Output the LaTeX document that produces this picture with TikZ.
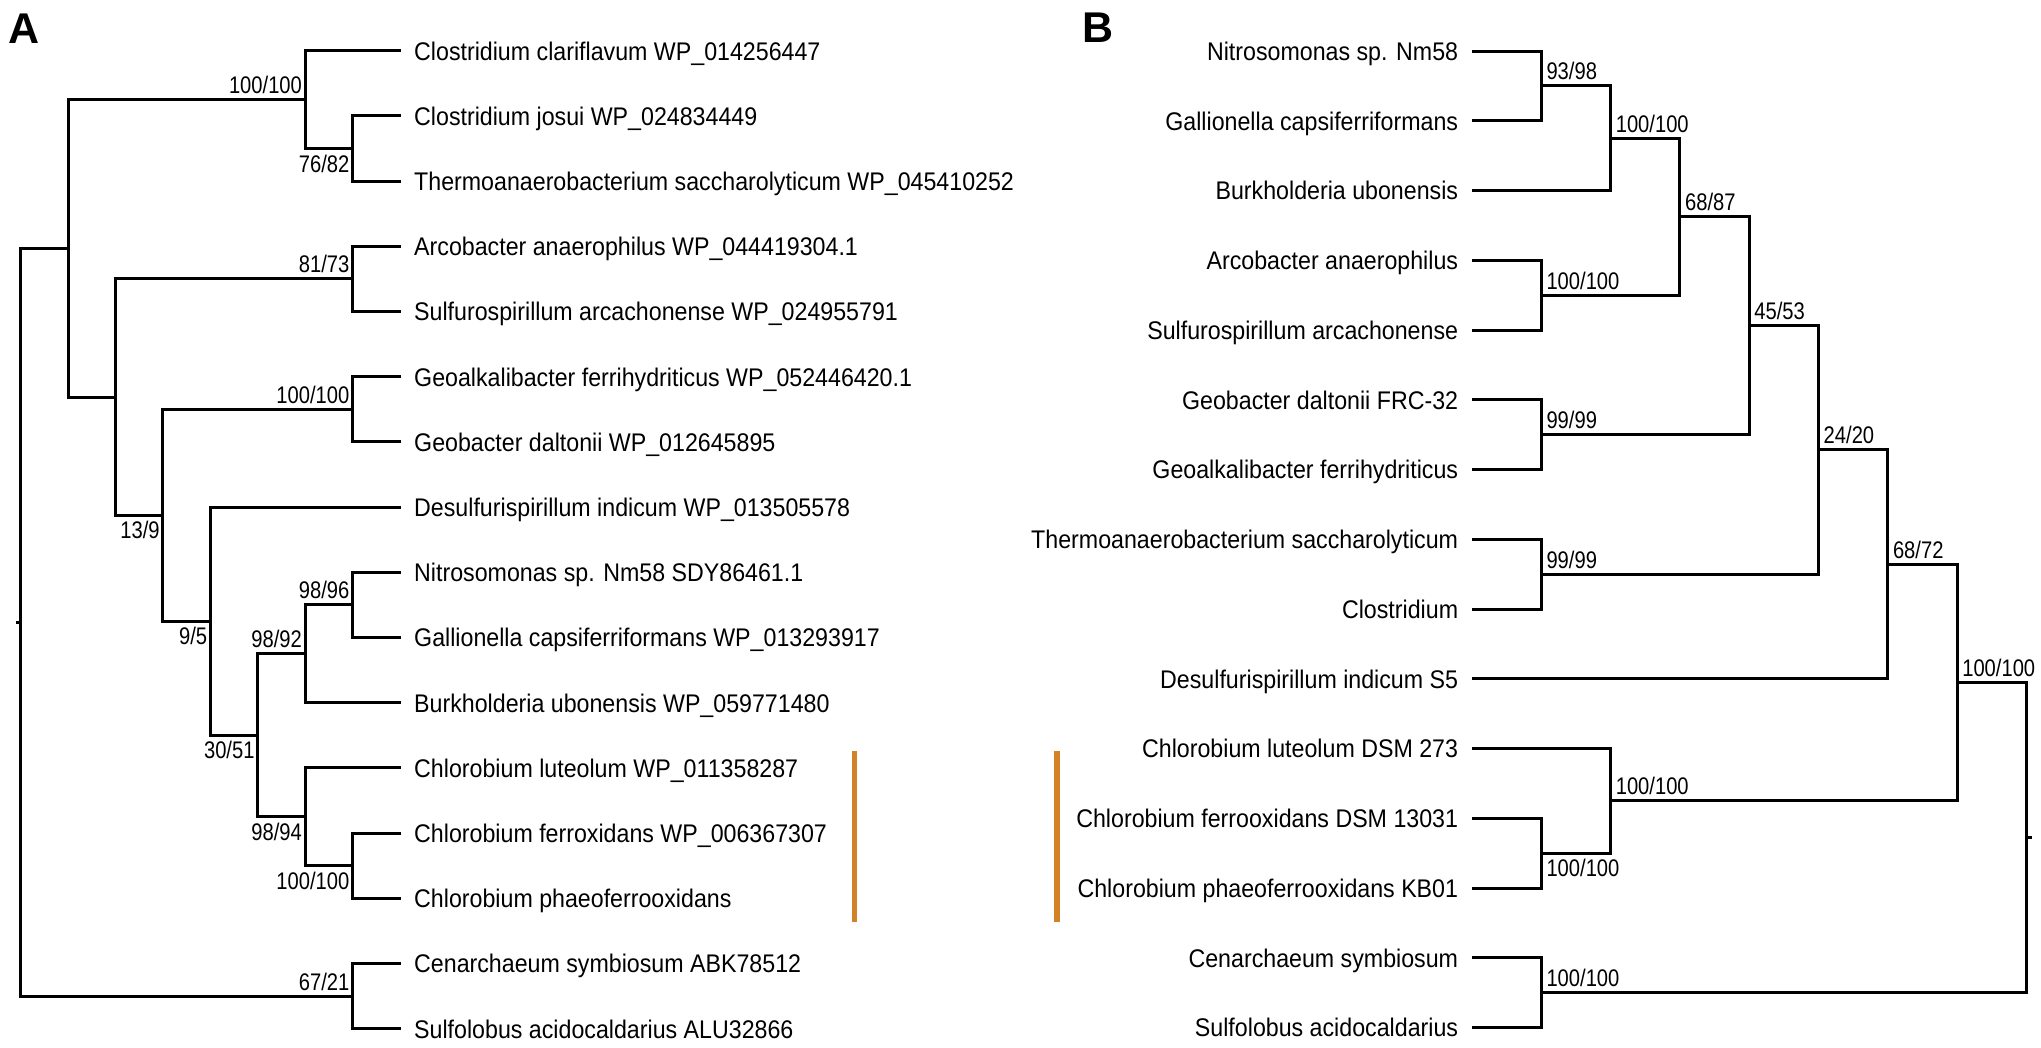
\documentclass[tikz,border=0pt]{standalone}
\usepackage{fontspec}
\setmainfont[FakeStretch=0.91]{Liberation Sans}
\newfontfamily\labfont[FakeStretch=0.84]{Liberation Sans}
\newfontfamily\panelfont{Liberation Sans}
\definecolor{barorange}{RGB}{212,130,40}
\begin{document}
\begin{tikzpicture}[x=1pt,y=-1pt,
  br/.style={line width=3pt, line join=miter, draw=black},
  leafA/.style={anchor=base west, inner sep=0pt, font=\fontsize{25.5}{30}\selectfont},
  leafB/.style={anchor=base east, inner sep=0pt, font=\fontsize{25.5}{30}\selectfont},
  labup/.style={inner sep=0pt, font=\labfont\fontsize{24}{28}\selectfont},
  panel/.style={anchor=base west, inner sep=0pt, font=\panelfont\fontsize{43}{48}\selectfont\bfseries},
  bar/.style={line width=5.7pt, draw=barorange}]
\useasboundingbox (0,0) rectangle (2041,1047);

% ---------------- Panel A ----------------
\node[panel] (pA) at (8,43) {A};
% leaves
\coordinate (A0) at (401,50.7);
\coordinate (A1) at (401,115.9);
\coordinate (A2) at (401,181.1);
\coordinate (A3) at (401,246.3);
\coordinate (A4) at (401,311.5);
\coordinate (A5) at (401,376.7);
\coordinate (A6) at (401,441.9);
\coordinate (A7) at (401,507.1);
\coordinate (A8) at (401,572.3);
\coordinate (A9) at (401,637.5);
\coordinate (A10) at (401,702.7);
\coordinate (A11) at (401,767.9);
\coordinate (A12) at (401,833.1);
\coordinate (A13) at (401,898.3);
\coordinate (A14) at (401,963.5);
\coordinate (A15) at (401,1028.7);
% internal nodes
\coordinate (a1) at (352.5,148.5);
\coordinate (a2) at (305.1,99.6);
\coordinate (a3) at (352.5,278.9);
\coordinate (a4) at (352.5,409.3);
\coordinate (a5) at (352.5,604.9);
\coordinate (a6) at (305.1,653.8);
\coordinate (a7) at (352.5,865.7);
\coordinate (a8) at (305.1,816.8);
\coordinate (a9) at (257.7,735.3);
\coordinate (a10) at (210.3,621.2);
\coordinate (a11) at (162.9,515.25);
\coordinate (a12) at (115.5,397.1);
\coordinate (a13) at (68.1,248.35);
\coordinate (a14) at (352.5,996.1);
\coordinate (aR) at (20.7,622.2);
\coordinate (aT) at (16,622.2);

\draw[br] (A1) -| (a1) |- (A2);
\draw[br] (A0) -| (a2) |- (a1);
\draw[br] (A3) -| (a3) |- (A4);
\draw[br] (A5) -| (a4) |- (A6);
\draw[br] (A8) -| (a5) |- (A9);
\draw[br] (a5) -| (a6) |- (A10);
\draw[br] (A12) -| (a7) |- (A13);
\draw[br] (A11) -| (a8) |- (a7);
\draw[br] (a6) -| (a9) |- (a8);
\draw[br] (A7) -| (a10) |- (a9);
\draw[br] (a4) -| (a11) |- (a10);
\draw[br] (a3) -| (a12) |- (a11);
\draw[br] (a2) -| (a13) |- (a12);
\draw[br] (A14) -| (a14) |- (A15);
\draw[br] (a13) -| (aR) |- (a14);
\draw[br] (aR) -- (aT);

% leaf labels A
\node[leafA] (tA0) at ([shift={(13,9.3)}]A0) {Clostridium clariflavum WP\_014256447};
\node[leafA] (tA1) at ([shift={(13,9.3)}]A1) {Clostridium josui WP\_024834449};
\node[leafA] (tA2) at ([shift={(13,9.3)}]A2) {Thermoanaerobacterium saccharolyticum WP\_045410252};
\node[leafA] (tA3) at ([shift={(13,9.3)}]A3) {Arcobacter anaerophilus WP\_044419304.1};
\node[leafA] (tA4) at ([shift={(13,9.3)}]A4) {Sulfurospirillum arcachonense WP\_024955791};
\node[leafA] (tA5) at ([shift={(13,9.3)}]A5) {Geoalkalibacter ferrihydriticus WP\_052446420.1};
\node[leafA] (tA6) at ([shift={(13,9.3)}]A6) {Geobacter daltonii WP\_012645895};
\node[leafA] (tA7) at ([shift={(13,9.3)}]A7) {Desulfurispirillum indicum WP\_013505578};
\node[leafA] (tA8) at ([shift={(13,9.3)}]A8) {Nitrosomonas sp. Nm58 SDY86461.1};
\node[leafA] (tA9) at ([shift={(13,9.3)}]A9) {Gallionella capsiferriformans WP\_013293917};
\node[leafA] (tA10) at ([shift={(13,9.3)}]A10) {Burkholderia ubonensis WP\_059771480};
\node[leafA] (tA11) at ([shift={(13,9.3)}]A11) {Chlorobium luteolum WP\_011358287};
\node[leafA] (tA12) at ([shift={(13,9.3)}]A12) {Chlorobium ferroxidans WP\_006367307};
\node[leafA] (tA13) at ([shift={(13,9.3)}]A13) {Chlorobium phaeoferrooxidans};
\node[leafA] (tA14) at ([shift={(13,9.3)}]A14) {Cenarchaeum symbiosum ABK78512};
\node[leafA] (tA15) at ([shift={(13,9.3)}]A15) {Sulfolobus acidocaldarius ALU32866};

% support labels A
\node[labup, anchor=base east] (sa2) at ([shift={(-3,-6)}]a2) {100/100};
\node[labup, anchor=north east] (sa1) at ([shift={(-3,6)}]a1) {76/82};
\node[labup, anchor=base east] (sa3) at ([shift={(-3,-6)}]a3) {81/73};
\node[labup, anchor=base east] (sa4) at ([shift={(-3,-6)}]a4) {100/100};
\node[labup, anchor=north east] (sa11) at ([shift={(-3,6)}]a11) {13/9};
\node[labup, anchor=north east] (sa10) at ([shift={(-3,6)}]a10) {9/5};
\node[labup, anchor=base east] (sa5) at ([shift={(-3,-6)}]a5) {98/96};
\node[labup, anchor=base east] (sa6) at ([shift={(-3,-6)}]a6) {98/92};
\node[labup, anchor=north east] (sa9) at ([shift={(-3,6)}]a9) {30/51};
\node[labup, anchor=north east] (sa8) at ([shift={(-3,6)}]a8) {98/94};
\node[labup, anchor=north east] (sa7) at ([shift={(-3,6)}]a7) {100/100};
\node[labup, anchor=base east] (sa14) at ([shift={(-3,-6)}]a14) {67/21};

% orange bars
\coordinate (oA1) at (854.5,750.7);
\coordinate (oA2) at (854.5,922.3);
\coordinate (oB1) at (1057,750.7);
\coordinate (oB2) at (1057,922.3);
\draw[bar] (oA1) -- (oA2);
\draw[bar] (oB1) -- (oB2);

% ---------------- Panel B ----------------
\node[panel] (pB) at (1082,42.7) {B};
\coordinate (B0) at (1472.3,51);
\coordinate (B1) at (1472.3,120.76);
\coordinate (B2) at (1472.3,190.52);
\coordinate (B3) at (1472.3,260.28);
\coordinate (B4) at (1472.3,330.04);
\coordinate (B5) at (1472.3,399.8);
\coordinate (B6) at (1472.3,469.56);
\coordinate (B7) at (1472.3,539.32);
\coordinate (B8) at (1472.3,609.08);
\coordinate (B9) at (1472.3,678.84);
\coordinate (B10) at (1472.3,748.6);
\coordinate (B11) at (1472.3,818.36);
\coordinate (B12) at (1472.3,888.12);
\coordinate (B13) at (1472.3,957.88);
\coordinate (B14) at (1472.3,1027.64);

\coordinate (b1) at (1541.3,85.88);
\coordinate (b2) at (1610.6,138.2);
\coordinate (b3) at (1541.3,295.16);
\coordinate (b4) at (1679.9,216.68);
\coordinate (b5) at (1541.3,434.68);
\coordinate (b6) at (1749.2,325.68);
\coordinate (b7) at (1541.3,574.2);
\coordinate (b8) at (1818.5,449.94);
\coordinate (b9) at (1887.8,564.39);
\coordinate (b10) at (1541.3,853.24);
\coordinate (b11) at (1610.6,800.92);
\coordinate (b12) at (1957.1,682.655);
\coordinate (b13) at (1541.3,992.76);
\coordinate (bR) at (2026.4,837.71);
\coordinate (bT) at (2032,837.71);

\draw[br] (B0) -| (b1) |- (B1);
\draw[br] (b1) -| (b2) |- (B2);
\draw[br] (B3) -| (b3) |- (B4);
\draw[br] (b2) -| (b4) |- (b3);
\draw[br] (B5) -| (b5) |- (B6);
\draw[br] (b4) -| (b6) |- (b5);
\draw[br] (B7) -| (b7) |- (B8);
\draw[br] (b6) -| (b8) |- (b7);
\draw[br] (b8) -| (b9) |- (B9);
\draw[br] (B11) -| (b10) |- (B12);
\draw[br] (B10) -| (b11) |- (b10);
\draw[br] (b9) -| (b12) |- (b11);
\draw[br] (B13) -| (b13) |- (B14);
\draw[br] (b12) -| (bR) |- (b13);
\draw[br] (bR) -- (bT);

\node[leafB] (tB0) at ([shift={(-14,9.3)}]B0) {Nitrosomonas sp. Nm58};
\node[leafB] (tB1) at ([shift={(-14,9.3)}]B1) {Gallionella capsiferriformans};
\node[leafB] (tB2) at ([shift={(-14,9.3)}]B2) {Burkholderia ubonensis};
\node[leafB] (tB3) at ([shift={(-14,9.3)}]B3) {Arcobacter anaerophilus};
\node[leafB] (tB4) at ([shift={(-14,9.3)}]B4) {Sulfurospirillum arcachonense};
\node[leafB] (tB5) at ([shift={(-14,9.3)}]B5) {Geobacter daltonii FRC-32};
\node[leafB] (tB6) at ([shift={(-14,9.3)}]B6) {Geoalkalibacter ferrihydriticus};
\node[leafB] (tB7) at ([shift={(-14,9.3)}]B7) {Thermoanaerobacterium saccharolyticum};
\node[leafB] (tB8) at ([shift={(-14,9.3)}]B8) {Clostridium};
\node[leafB] (tB9) at ([shift={(-14,9.3)}]B9) {Desulfurispirillum indicum S5};
\node[leafB] (tB10) at ([shift={(-14,9.3)}]B10) {Chlorobium luteolum DSM 273};
\node[leafB] (tB11) at ([shift={(-14,9.3)}]B11) {Chlorobium ferrooxidans DSM 13031};
\node[leafB] (tB12) at ([shift={(-14,9.3)}]B12) {Chlorobium phaeoferrooxidans KB01};
\node[leafB] (tB13) at ([shift={(-14,9.3)}]B13) {Cenarchaeum symbiosum};
\node[leafB] (tB14) at ([shift={(-14,9.3)}]B14) {Sulfolobus acidocaldarius};

\node[labup, anchor=base west] (sb1) at ([shift={(5,-6)}]b1) {93/98};
\node[labup, anchor=base west] (sb2) at ([shift={(5,-6)}]b2) {100/100};
\node[labup, anchor=base west] (sb3) at ([shift={(5,-6)}]b3) {100/100};
\node[labup, anchor=base west] (sb4) at ([shift={(5,-6)}]b4) {68/87};
\node[labup, anchor=base west] (sb5) at ([shift={(5,-6)}]b5) {99/99};
\node[labup, anchor=base west] (sb6) at ([shift={(5,-6)}]b6) {45/53};
\node[labup, anchor=base west] (sb7) at ([shift={(5,-6)}]b7) {99/99};
\node[labup, anchor=base west] (sb8) at ([shift={(5,-6)}]b8) {24/20};
\node[labup, anchor=base west] (sb9) at ([shift={(5,-6)}]b9) {68/72};
\node[labup, anchor=north west] (sb10) at ([shift={(5,6)}]b10) {100/100};
\node[labup, anchor=base west] (sb11) at ([shift={(5,-6)}]b11) {100/100};
\node[labup, anchor=base west] (sb12) at ([shift={(5,-6)}]b12) {100/100};
\node[labup, anchor=base west] (sb13) at ([shift={(5,-6)}]b13) {100/100};
\end{tikzpicture}
\end{document}
